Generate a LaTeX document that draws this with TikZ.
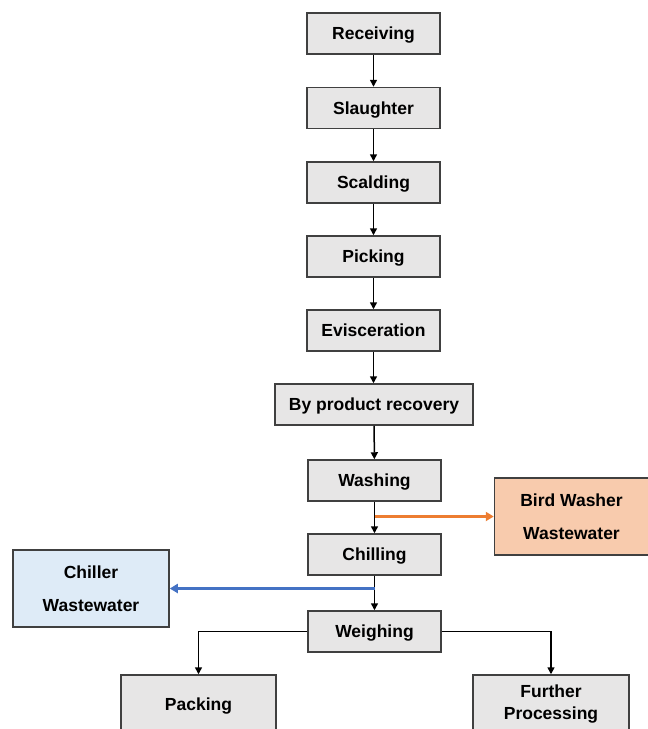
\documentclass[tikz,border=0pt]{standalone}
\usepackage{fontspec}
\setmainfont{Liberation Sans}
\usetikzlibrary{arrows.meta}
\definecolor{boxgray}{HTML}{E7E6E6}
\definecolor{edgegray}{HTML}{404040}
\definecolor{orangefill}{HTML}{F8CBAD}
\definecolor{orangeline}{HTML}{ED7D31}
\definecolor{bluefill}{HTML}{DEEBF7}
\definecolor{blueline}{HTML}{4472C4}
\tikzset{
  basebox/.style={draw=edgegray, line width=1.5pt, fill=boxgray, minimum width=133pt, minimum height=41pt, inner sep=0pt, font=\fontsize{17.5}{20}\selectfont\bfseries, align=center},
  stepbox/.style={basebox, text height=12.5pt, text depth=0pt},
  wastebox/.style={basebox, minimum width=156pt, minimum height=77pt},
  flow/.style={line width=1.5pt, -{Triangle[length=7pt,width=7pt]}},
  cflow/.style={line width=3pt, -{Triangle[length=8pt,width=9pt]}}
}
\begin{document}
\begin{tikzpicture}[x=1pt,y=-1pt]
\useasboundingbox (0,0) rectangle (648,729);
\clip (0,0) rectangle (648,729);
\node[stepbox] (rec) at (373.5,33.5) {Receiving};
\node[stepbox] (sla) at (373.5,108) {Slaughter};
\node[stepbox] (sca) at (373.5,182.5) {Scalding};
\node[stepbox] (pic) at (373.5,256.5) {Picking};
\node[stepbox] (evi) at (373.5,330.5) {Evisceration};
\node[stepbox, minimum width=198pt] (byp) at (374,404.5) {By product recovery};
\node[stepbox] (was) at (374.5,480.5) {Washing};
\node[stepbox] (chi) at (374.5,554.5) {Chilling};
\node[stepbox] (wei) at (374.5,631.5) {Weighing};
\node[wastebox, fill=orangefill, minimum width=154pt] (bird) at (571.5,516.5) {Bird Washer\\[13pt]Wastewater};
\node[wastebox, fill=bluefill] (chw) at (91,588.5) {Chiller\\[13pt]Wastewater};
\node[stepbox, minimum width=155pt, minimum height=58pt] (pac) at (198.5,704) {Packing};
\node[basebox, minimum width=156pt, minimum height=58pt] (fur) at (551,704) {Further\\[2pt]Processing};
\draw[flow] (rec) -- (sla);
\draw[flow] (sla) -- (sca);
\draw[flow] (sca) -- (pic);
\draw[flow] (pic) -- (evi);
\draw[flow] (evi.south) -- (evi.south |- byp.north);
\draw[flow] (byp) -- (was);
\draw[flow] (was) -- (chi);
\draw[flow] (chi) -- (wei);
\draw[flow] (wei.west) -| (pac.north);
\draw[flow] (wei.east) -| (fur.north);
\coordinate (ob) at (was.south |- bird.west);
\coordinate (bb) at (chi.south |- chw.east);
\draw[cflow, draw=orangeline, fill=orangeline] (ob) -- (bird.west);
\draw[cflow, draw=blueline, fill=blueline] (bb) -- (chw.east);
\end{tikzpicture}
\end{document}
